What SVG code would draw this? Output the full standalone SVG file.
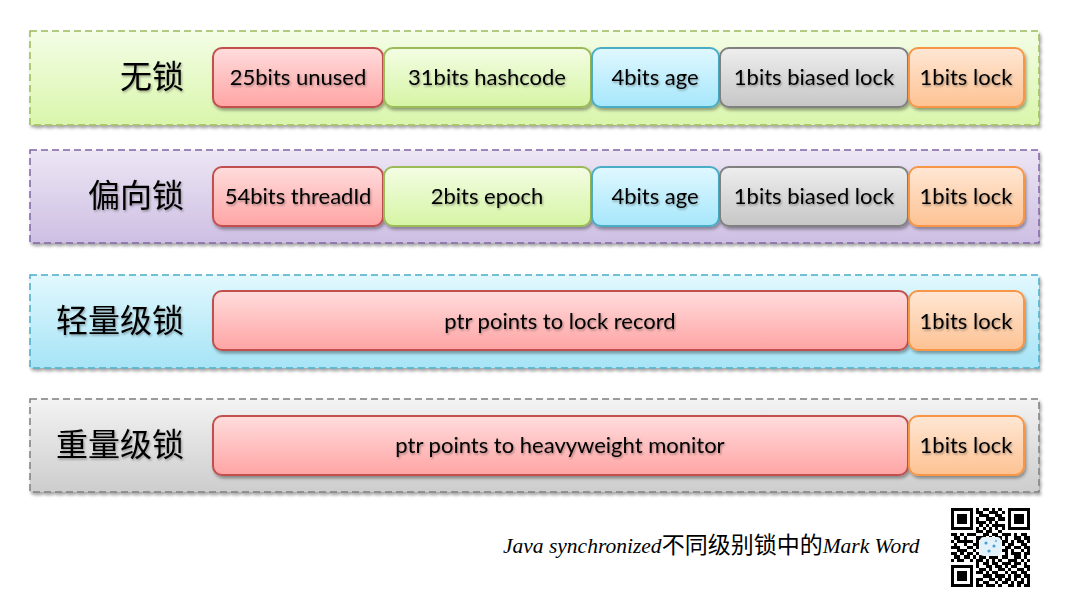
<svg xmlns="http://www.w3.org/2000/svg" width="1070" height="600" viewBox="0 0 1070 600">
<defs>
<linearGradient id="gPanelGreen" x1="0" y1="0" x2="0" y2="1"><stop offset="0" stop-color="#f4fde6"/><stop offset="1" stop-color="#d9f6ab"/></linearGradient>
<linearGradient id="gPanelPurple" x1="0" y1="0" x2="0" y2="1"><stop offset="0" stop-color="#ede6f4"/><stop offset="1" stop-color="#cdbfe3"/></linearGradient>
<linearGradient id="gPanelCyan" x1="0" y1="0" x2="0" y2="1"><stop offset="0" stop-color="#e2f8fe"/><stop offset="1" stop-color="#a6e4f6"/></linearGradient>
<linearGradient id="gPanelGray" x1="0" y1="0" x2="0" y2="1"><stop offset="0" stop-color="#f3f3f3"/><stop offset="1" stop-color="#cdcdcd"/></linearGradient>
<linearGradient id="gRed" x1="0" y1="0" x2="0" y2="1"><stop offset="0" stop-color="#ffdcdc"/><stop offset="1" stop-color="#ffa4a4"/></linearGradient>
<linearGradient id="gGreen" x1="0" y1="0" x2="0" y2="1"><stop offset="0" stop-color="#f4fde4"/><stop offset="1" stop-color="#d5f5a4"/></linearGradient>
<linearGradient id="gCyan" x1="0" y1="0" x2="0" y2="1"><stop offset="0" stop-color="#e0f8ff"/><stop offset="1" stop-color="#a6e7fb"/></linearGradient>
<linearGradient id="gGray" x1="0" y1="0" x2="0" y2="1"><stop offset="0" stop-color="#eeeeee"/><stop offset="1" stop-color="#c6c6c6"/></linearGradient>
<linearGradient id="gOrange" x1="0" y1="0" x2="0" y2="1"><stop offset="0" stop-color="#ffe7d4"/><stop offset="1" stop-color="#fdc293"/></linearGradient>
<filter id="shadow" x="-5%" y="-20%" width="110%" height="150%"><feDropShadow dx="1.5" dy="2.5" stdDeviation="1.8" flood-color="#000" flood-opacity="0.35"/></filter>
<filter id="tshadow" x="-10%" y="-30%" width="120%" height="160%"><feDropShadow dx="1" dy="1.5" stdDeviation="1" flood-color="#000" flood-opacity="0.35"/></filter>
<style>
.panel{stroke-width:1.5;stroke-dasharray:7 4;filter:url(#shadow)}
.box{stroke-width:2;filter:url(#shadow)}
.red{fill:url(#gRed);stroke:#c0504d}
.green{fill:url(#gGreen);stroke:#9bbb59}
.cyan{fill:url(#gCyan);stroke:#4bacc6}
.gray{fill:url(#gGray);stroke:#808080}
.orange{fill:url(#gOrange);stroke:#f79646}
.bt{font-family:Lato,"Liberation Sans",sans-serif;font-size:22px;fill:#000;text-anchor:middle;filter:url(#tshadow)}
.lbl{font-family:"Noto Sans CJK SC",sans-serif;font-size:32px;font-weight:400;fill:#000;text-anchor:end;filter:url(#tshadow)}
.cap{font-family:"Liberation Serif",serif;font-style:italic;font-size:21.5px;fill:#000}
.capc{font-family:"Noto Sans CJK SC",sans-serif;font-style:normal;font-size:23px}
</style>
</defs>
<rect width="1070" height="600" fill="#ffffff"/>

<g id="panel-nolock">
<rect class="panel" x="30" y="31" width="1009" height="94" fill="url(#gPanelGreen)" stroke="#9bbb59"/>
<text class="lbl" x="184" y="88">无锁</text>
<rect class="box red" x="213" y="48" width="170" height="59" rx="9"/>
<text class="bt" x="298" y="85">25bits unused</text>
<rect class="box green" x="384" y="48" width="207" height="59" rx="9"/>
<text class="bt" x="487" y="85">31bits hashcode</text>
<rect class="box cyan" x="592" y="48" width="127" height="59" rx="9"/>
<text class="bt" x="655" y="85">4bits age</text>
<rect class="box gray" x="720" y="48" width="188" height="59" rx="9"/>
<text class="bt" x="814" y="85">1bits biased lock</text>
<rect class="box orange" x="909" y="48" width="115" height="59" rx="9"/>
<text class="bt" x="966" y="85">1bits lock</text>
</g>

<g id="panel-biased">
<rect class="panel" x="30" y="150" width="1009" height="93" fill="url(#gPanelPurple)" stroke="#8064a2"/>
<text class="lbl" x="184" y="207">偏向锁</text>
<rect class="box red" x="213" y="167" width="170" height="59" rx="9"/>
<text class="bt" x="298" y="204">54bits threadId</text>
<rect class="box green" x="384" y="167" width="207" height="59" rx="9"/>
<text class="bt" x="487" y="204">2bits epoch</text>
<rect class="box cyan" x="592" y="167" width="127" height="59" rx="9"/>
<text class="bt" x="655" y="204">4bits age</text>
<rect class="box gray" x="720" y="167" width="188" height="59" rx="9"/>
<text class="bt" x="814" y="204">1bits biased lock</text>
<rect class="box orange" x="909" y="167" width="115" height="59" rx="9"/>
<text class="bt" x="966" y="204">1bits lock</text>
</g>

<g id="panel-lightweight">
<rect class="panel" x="30" y="275" width="1009" height="93" fill="url(#gPanelCyan)" stroke="#4bacc6"/>
<text class="lbl" x="184" y="332">轻量级锁</text>
<rect class="box red" x="213" y="291" width="695" height="59" rx="9"/>
<text class="bt" x="560" y="329">ptr points to lock record</text>
<rect class="box orange" x="909" y="291" width="115" height="59" rx="9"/>
<text class="bt" x="966" y="329">1bits lock</text>
</g>

<g id="panel-heavyweight">
<rect class="panel" x="30" y="399" width="1009" height="93" fill="url(#gPanelGray)" stroke="#7f7f7f"/>
<text class="lbl" x="184" y="456">重量级锁</text>
<rect class="box red" x="213" y="416" width="695" height="59" rx="9"/>
<text class="bt" x="560" y="453">ptr points to heavyweight monitor</text>
<rect class="box orange" x="909" y="416" width="115" height="59" rx="9"/>
<text class="bt" x="966" y="453">1bits lock</text>
</g>

<g id="caption">
<text class="cap" x="503" y="553">Java synchronized<tspan class="capc">不同级别锁中的</tspan>Mark Word</text>
</g>

<g id="qrcode">
<path transform="translate(951,508) scale(3.16)" fill="#000" shape-rendering="crispEdges" d="
M0 0h7v1h-7z M8 0h1v1h-1z M10 0h2v1h-2z M13 0h1v1h-1z M15 0h1v1h-1z M18 0h7v1h-7z
M0 1h1v1h-1z M6 1h1v1h-1z M8 1h2v1h-2z M12 1h3v1h-3z M16 1h1v1h-1z M18 1h1v1h-1z M24 1h1v1h-1z
M0 2h1v1h-1z M2 2h3v1h-3z M6 2h1v1h-1z M9 2h3v1h-3z M14 2h2v1h-2z M18 2h1v1h-1z M20 2h3v1h-3z M24 2h1v1h-1z
M0 3h1v1h-1z M2 3h3v1h-3z M6 3h1v1h-1z M8 3h1v1h-1z M11 3h3v1h-3z M15 3h2v1h-2z M18 3h1v1h-1z M20 3h3v1h-3z M24 3h1v1h-1z
M0 4h1v1h-1z M2 4h3v1h-3z M6 4h1v1h-1z M8 4h3v1h-3z M12 4h1v1h-1z M14 4h1v1h-1z M18 4h1v1h-1z M20 4h3v1h-3z M24 4h1v1h-1z
M0 5h1v1h-1z M6 5h1v1h-1z M9 5h1v1h-1z M11 5h1v1h-1z M13 5h4v1h-4z M18 5h1v1h-1z M24 5h1v1h-1z
M0 6h7v1h-7z M8 6h1v1h-1z M10 6h1v1h-1z M12 6h1v1h-1z M14 6h1v1h-1z M16 6h1v1h-1z M18 6h7v1h-7z
M8 7h2v1h-2z M11 7h2v1h-2z M15 7h1v1h-1z
M0 8h2v1h-2z M3 8h1v1h-1z M5 8h3v1h-3z M10 8h2v1h-2z M13 8h2v1h-2z M16 8h3v1h-3z M20 8h1v1h-1z M22 8h2v1h-2z
M1 9h2v1h-2z M4 9h1v1h-1z M8 9h3v1h-3z M12 9h1v1h-1z M14 9h2v1h-2z M17 9h1v1h-1z M20 9h2v1h-2z M23 9h2v1h-2z
M0 10h1v1h-1z M2 10h5v1h-5z M8 10h1v1h-1z M16 10h2v1h-2z M19 10h1v1h-1z M21 10h2v1h-2z M24 10h1v1h-1z
M1 11h1v1h-1z M4 11h1v1h-1z M7 11h2v1h-2z M16 11h1v1h-1z M18 11h2v1h-2z M22 11h2v1h-2z
M0 12h3v1h-3z M5 12h2v1h-2z M8 12h1v1h-1z M17 12h2v1h-2z M20 12h2v1h-2z M23 12h2v1h-2z
M2 13h3v1h-3z M7 13h1v1h-1z M16 13h2v1h-2z M19 13h1v1h-1z M22 13h1v1h-1z M24 13h1v1h-1z
M0 14h2v1h-2z M3 14h1v1h-1z M5 14h2v1h-2z M8 14h1v1h-1z M17 14h1v1h-1z M19 14h3v1h-3z M23 14h2v1h-2z
M1 15h2v1h-2z M4 15h2v1h-2z M7 15h1v1h-1z M9 15h2v1h-2z M12 15h3v1h-3z M16 15h2v1h-2z M20 15h2v1h-2z M23 15h1v1h-1z
M0 16h1v1h-1z M2 16h2v1h-2z M6 16h1v1h-1z M8 16h2v1h-2z M11 16h1v1h-1z M13 16h1v1h-1z M15 16h1v1h-1z M18 16h3v1h-3z M22 16h1v1h-1z M24 16h1v1h-1z
M8 17h1v1h-1z M10 17h2v1h-2z M13 17h2v1h-2z M16 17h3v1h-3z M20 17h2v1h-2z M23 17h1v1h-1z
M0 18h7v1h-7z M8 18h1v1h-1z M11 18h2v1h-2z M14 18h2v1h-2z M17 18h1v1h-1z M19 18h2v1h-2z M23 18h2v1h-2z
M0 19h1v1h-1z M6 19h1v1h-1z M9 19h2v1h-2z M12 19h1v1h-1z M15 19h2v1h-2z M18 19h1v1h-1z M21 19h2v1h-2z M24 19h1v1h-1z
M0 20h1v1h-1z M2 20h3v1h-3z M6 20h1v1h-1z M8 20h2v1h-2z M11 20h1v1h-1z M13 20h2v1h-2z M17 20h1v1h-1z M19 20h2v1h-2z M22 20h2v1h-2z
M0 21h1v1h-1z M2 21h3v1h-3z M6 21h1v1h-1z M10 21h3v1h-3z M14 21h3v1h-3z M18 21h1v1h-1z M20 21h2v1h-2z M23 21h2v1h-2z
M0 22h1v1h-1z M2 22h3v1h-3z M6 22h1v1h-1z M8 22h2v1h-2z M12 22h2v1h-2z M15 22h1v1h-1z M17 22h2v1h-2z M20 22h1v1h-1z M22 22h1v1h-1z M24 22h1v1h-1z
M0 23h1v1h-1z M6 23h1v1h-1z M8 23h1v1h-1z M10 23h2v1h-2z M14 23h1v1h-1z M16 23h2v1h-2z M19 23h1v1h-1z M21 23h2v1h-2z M24 23h1v1h-1z
M0 24h7v1h-7z M8 24h2v1h-2z M11 24h3v1h-3z M15 24h1v1h-1z M18 24h2v1h-2z M21 24h1v1h-1z M23 24h2v1h-2z"/>
<rect x="980" y="537" width="21" height="19" rx="4" fill="#e3f1fb"/>
<circle cx="986" cy="543" r="1.6" fill="#4a9fd8"/>
<circle cx="994" cy="546" r="1.6" fill="#4a9fd8"/>
<circle cx="989" cy="551" r="1.6" fill="#4a9fd8"/>
<circle cx="996" cy="541" r="1.2" fill="#7fbde6"/>
</g>
</svg>
